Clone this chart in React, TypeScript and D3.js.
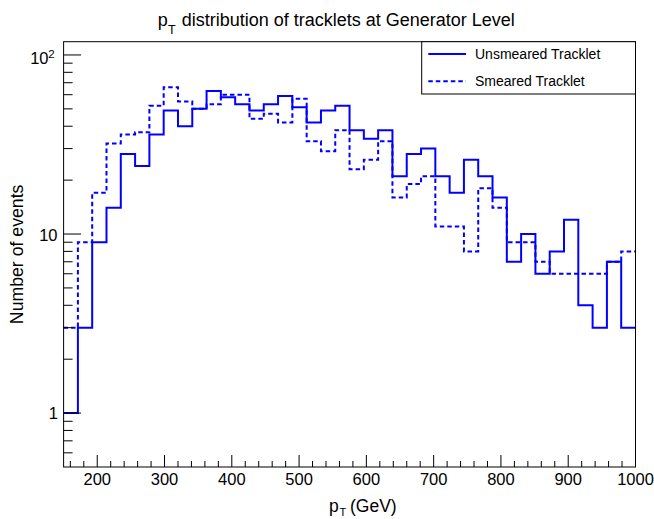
import React from "react";
import * as d3 from "d3";

const W = 654;
const H = 519;

// Histogram binning (40 bins from 150 to 1000 GeV)
const binLow = 150;
const binHigh = 1000;
const nBins = 40;

const unsmeared = [1, 3, 9, 14, 28, 24, 36, 49, 40, 50, 63, 58, 53, 49, 53, 59, 51, 42, 49, 52, 38, 34, 38, 21, 28, 30, 21, 17, 26, 21, 16, 7, 10, 6, 8, 12, 4, 3, 7, 3];
const smeared = [3, 9, 17, 32, 36, 37, 52, 66, 55, 50, 53, 60, 60, 44, 47, 42, 57, 33, 29, 38, 23, 26, 33, 16, 19, 21, 11, 11, 8, 18, 14, 9, 9, 7, 6, 6, 6, 6, 7, 8];

const xMajorTicks = [200, 300, 400, 500, 600, 700, 800, 900, 1000];
const yMajorTicks = [1, 10, 100];
const yMin = 0.5;
const yMax = 118.6;

const legendLabels = ["Unsmeared Tracklet", "Smeared Tracklet"];

const FONT = "'Liberation Sans', Arial, Helvetica, sans-serif";
const BLUE = "#0000ff";

const plot = { left: 63.6, right: 635.5, top: 41.7, bottom: 467 };

export default function App() {
  const x = d3.scaleLinear().domain([binLow, binHigh]).range([plot.left, plot.right]);
  const y = d3.scaleLog().domain([yMin, yMax]).range([plot.bottom, plot.top]);
  const width = (binHigh - binLow) / nBins;
  const edges = d3.range(nBins + 1).map((i) => binLow + i * width);

  const stepLine = d3
    .line<[number, number]>()
    .x((d) => x(d[0]))
    .y((d) => y(d[1]))
    .curve(d3.curveStepAfter);

  const toPts = (vals: number[]): [number, number][] => {
    const pts: [number, number][] = vals.map((v, i) => [edges[i], v]);
    pts.push([edges[nBins], vals[nBins - 1]]);
    return pts;
  };

  const xMinor = d3.range(160, 1000, 20).filter((v) => v % 100 !== 0);
  const yMinor: number[] = [];
  for (let k = -1; k <= 2; k++) {
    for (let m = 2; m <= 9; m++) {
      const v = m * Math.pow(10, k);
      if (v > yMin && v < yMax && !yMajorTicks.includes(v)) yMinor.push(v);
    }
  }

  return (
    <svg
      width={W}
      height={H}
      style={{ position: "absolute", left: 0, top: 0, background: "#fff" }}
      fontFamily={FONT}
    >
      <rect x={0} y={0} width={W} height={H} fill="#fff" />
      <defs>
        <clipPath id="plotclip">
          <rect x={plot.left} y={plot.top} width={plot.right - plot.left} height={plot.bottom - plot.top} />
        </clipPath>
      </defs>

      {/* Title */}
      <text x={157.7} y={26} fontSize={18} fill="#000">p</text>
      <text x={168} y={34} fontSize={12.5} fill="#000">T</text>
      <text x={181.7} y={26} fontSize={18} fill="#000">distribution of tracklets at Generator Level</text>

      {/* Histograms */}
      <g clipPath="url(#plotclip)">
        <path d={stepLine(toPts(smeared)) || ""} fill="none" stroke={BLUE} strokeWidth={2} strokeDasharray="4.5,3" />
        <path d={stepLine(toPts(unsmeared)) || ""} fill="none" stroke={BLUE} strokeWidth={2} />
      </g>

      {/* Frame */}
      <rect
        x={plot.left}
        y={plot.top}
        width={plot.right - plot.left}
        height={plot.bottom - plot.top}
        fill="none"
        stroke="#000"
        strokeWidth={1}
      />

      {/* X ticks */}
      {xMajorTicks.map((t) => (
        <g key={"xm" + t}>
          <line x1={x(t)} x2={x(t)} y1={plot.bottom} y2={plot.bottom - 12} stroke="#000" strokeWidth={1} />
          <text x={x(t)} y={485} fontSize={16.5} textAnchor="middle" fill="#000">
            {t}
          </text>
        </g>
      ))}
      {xMinor.map((t) => (
        <line key={"xn" + t} x1={x(t)} x2={x(t)} y1={plot.bottom} y2={plot.bottom - 6} stroke="#000" strokeWidth={1} />
      ))}

      {/* Y ticks */}
      {yMajorTicks.map((t) => (
        <line key={"ym" + t} x1={plot.left} x2={plot.left + 17.5} y1={y(t)} y2={y(t)} stroke="#000" strokeWidth={1} />
      ))}
      {yMinor.map((t) => (
        <line key={"yn" + t} x1={plot.left} x2={plot.left + 9} y1={y(t)} y2={y(t)} stroke="#000" strokeWidth={1} />
      ))}
      <text x={58} y={y(1) + 6} fontSize={16.5} textAnchor="end" fill="#000">1</text>
      <text x={57.5} y={y(10) + 6.5} fontSize={16.5} textAnchor="end" fill="#000">10</text>
      <text x={48.5} y={y(100) + 9} fontSize={16.5} textAnchor="end" fill="#000">10</text>
      <text x={48.3} y={y(100) + 3} fontSize={11.5} textAnchor="start" fill="#000">2</text>

      {/* Axis titles */}
      <text x={329} y={511.5} fontSize={17.5} fill="#000">p</text>
      <text x={339.5} y={516} fontSize={11} fill="#000">T</text>
      <text x={350} y={511.5} fontSize={17.5} fill="#000">(GeV)</text>
      <text
        transform={`translate(23.3, ${(plot.top + plot.bottom) / 2}) rotate(-90)`}
        fontSize={17.7}
        textAnchor="middle"
        fill="#000"
      >
        Number of events
      </text>

      {/* Legend */}
      <rect x={421.7} y={plot.top} width={plot.right - 421.7} height={94 - plot.top} fill="#fff" stroke="#000" strokeWidth={1} />
      <line x1={428.3} x2={466} y1={54} y2={54} stroke={BLUE} strokeWidth={2} />
      <line x1={428.3} x2={466} y1={81.3} y2={81.3} stroke={BLUE} strokeWidth={2} strokeDasharray="4.5,3" />
      <text x={475} y={59} fontSize={14} fill="#000">{legendLabels[0]}</text>
      <text x={475} y={86.3} fontSize={14} fill="#000">{legendLabels[1]}</text>
    </svg>
  );
}
